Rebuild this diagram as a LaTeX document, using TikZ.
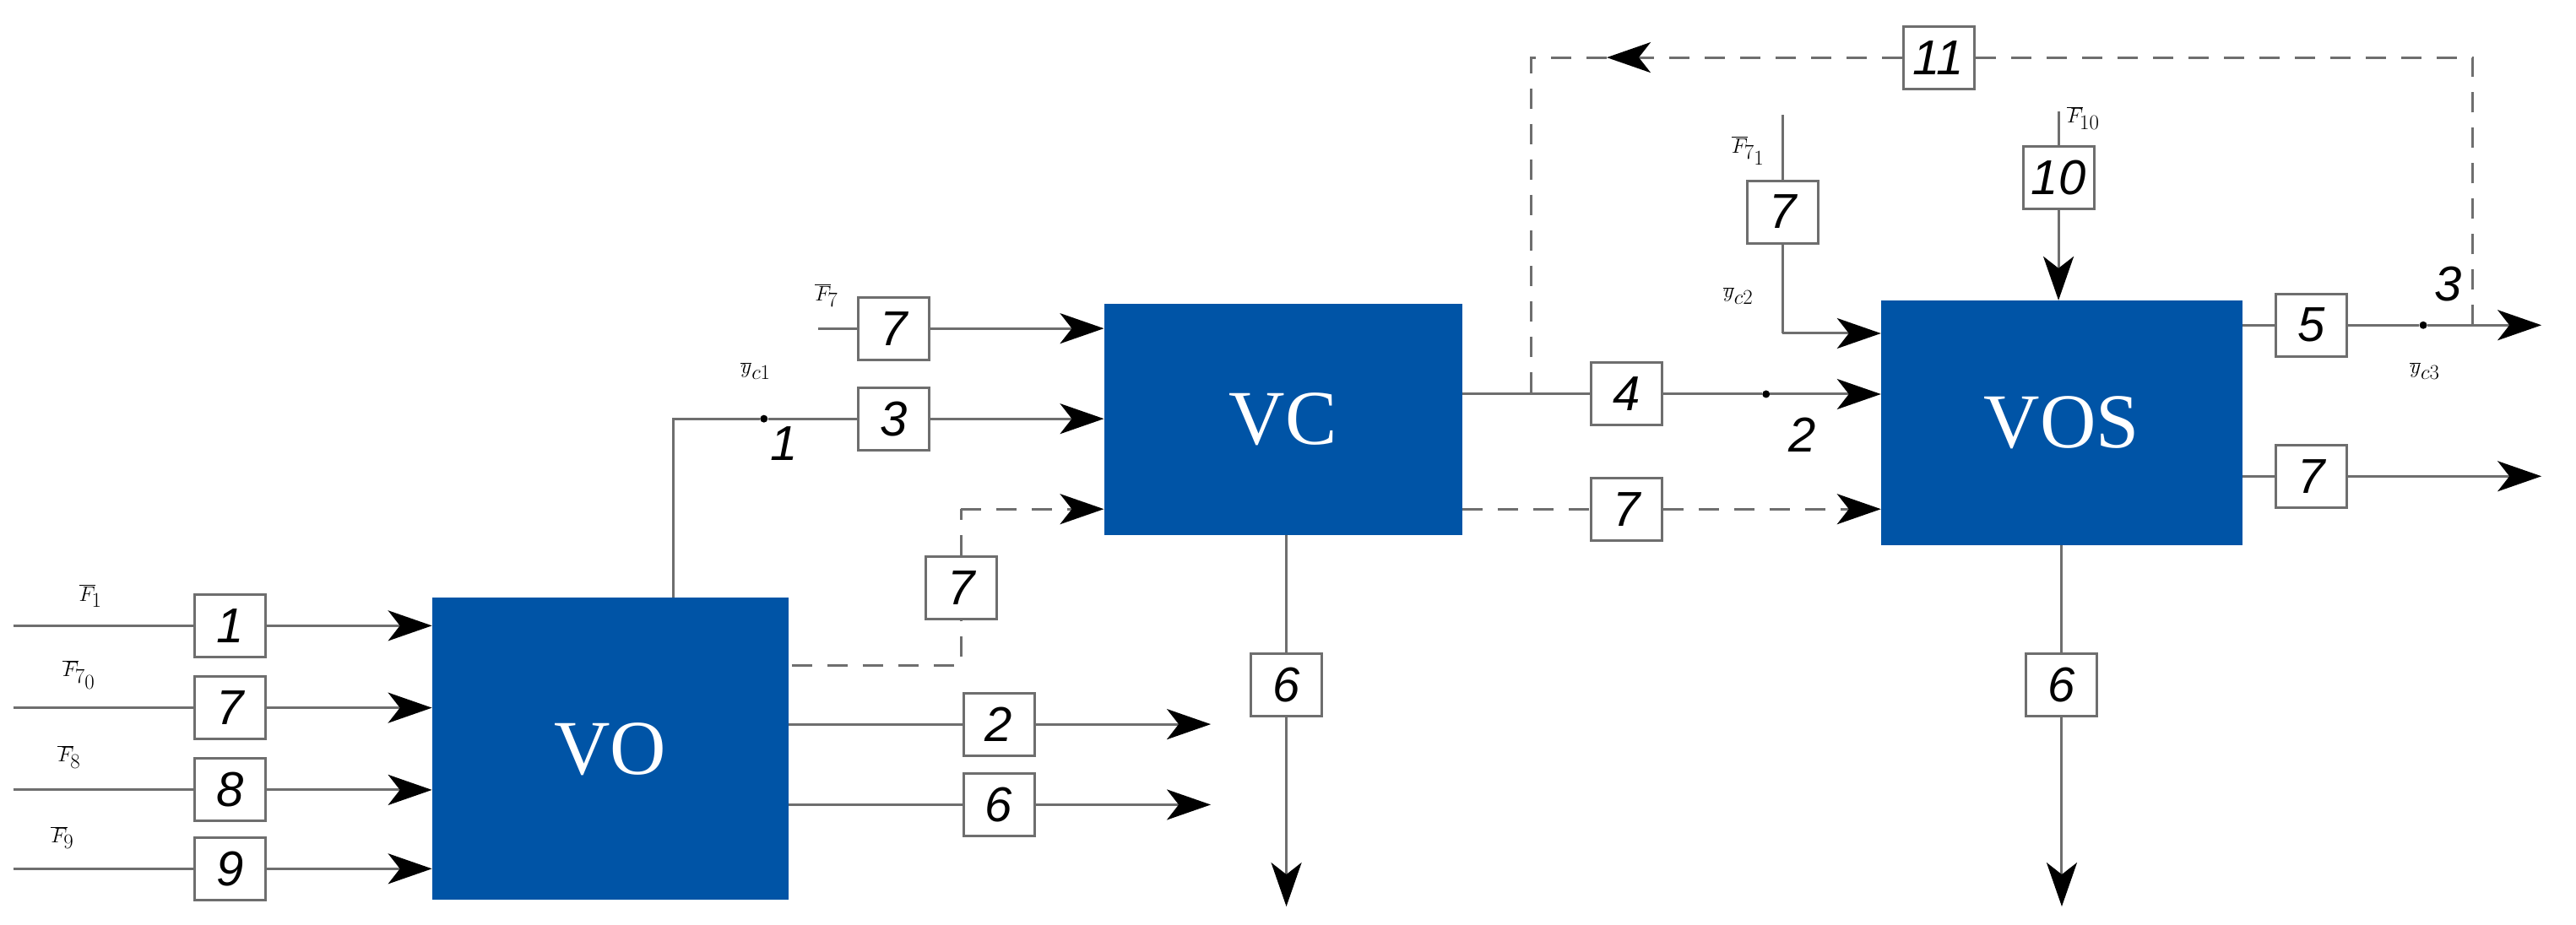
\documentclass[tikz,border=0pt]{standalone}
\usepackage{fontspec}
\setmainfont{Liberation Sans}
\newfontfamily\blkfont{Liberation Serif}
\usetikzlibrary{arrows.meta}
\definecolor{blkblue}{RGB}{0,84,166}
\definecolor{ln}{RGB}{110,110,110}
\begin{document}
\begin{tikzpicture}[x=1.9458pt,y=-1.9458pt,
  blk/.style={fill=blkblue,draw=none,text=white,font=\blkfont\fontsize{92}{100}\selectfont},
  bx/.style={draw=ln,line width=3pt,fill=white,minimum width=84pt,minimum height=74pt,inner sep=0pt,font=\itshape\fontsize{58}{60}\selectfont},
  ln/.style={draw=ln,line width=3pt},
  arr/.style={ln,-{Stealth[length=52pt,width=36pt,inset=14pt,fill=black,color=black]}},
  dsh/.style={dash pattern=on 24pt off 18pt},
  lab/.style={font=\fontsize{58}{60}\selectfont,inner sep=0pt},
  dot/.style={circle,fill=black,inner sep=0pt,minimum size=9pt}]
\useasboundingbox (0,0) rectangle (1568,563);
% blocks
\node[blk,minimum width=422pt,minimum height=358pt] (VO) at (371.5,456) {VO};
\node[blk,minimum width=424pt,minimum height=274pt] (VC) at (781,255.5) {VC};
\node[blk,minimum width=428pt,minimum height=290pt] (VOS) at (1255,257.5) {VOS};
% VO inputs
\foreach \n/\y/\t in {a/381/1,b/431/7,c/481/8,d/529/9}{
  \coordinate (s\n) at (8,\y);
  \node[bx] (b\n) at (140,\y) {\t};
  \draw[ln] (s\n) -- (b\n);
  \draw[arr] (b\n) -- (b\n -| VO.west);
}
\node[lab] (la) at (55,363) {$\overline{F}_{\!1}$};
\node[lab] (lb) at (48,411) {$\overline{F}_{\!7_0}$};
\node[lab] (lc) at (42,461) {$\overline{F}_{\!8}$};
\node[lab] (ld) at (38,510) {$\overline{F}_{\!9}$};
% VO outputs
\coordinate (vot) at (410,255);
\node[dot] (yc1) at (465,255) {};
\node[bx] (b3) at (544,255) {3};
\draw[ln] (vot |- VO.north) -- (vot) -- (yc1) -- (b3);
\draw[arr] (b3) -- (b3 -| VC.west);
\node[lab] (lyc1) at (460,226) {$\overline{y}_{c1}$};
\node[lab] (l1) at (477,270) {\itshape 1};
\coordinate (sf7) at (498,200);
\node[bx] (bf7) at (544,200) {7};
\draw[ln] (sf7) -- (bf7);
\draw[arr] (bf7) -- (bf7 -| VC.west);
\node[lab] (lf7) at (503,180) {$\overline{F}_{\!7}$};
\coordinate (vd1) at (482,405);
\coordinate (vd2) at (585,405);
\node[bx] (bd7) at (585,358) {7};
\coordinate (vd3) at (585,310);
\draw[ln,dsh] (vd1) -- (vd2) -- (bd7) -- (vd3);
\draw[arr,dsh] (vd3) -- (vd3 -| VC.west);
\node[bx] (b2) at (608,441) {2};
\coordinate (e2) at (737,441);
\draw[ln] (b2 -| VO.east) -- (b2);
\draw[arr] (b2) -- (e2);
\node[bx] (b6a) at (608,490) {6};
\coordinate (e6a) at (737,490);
\draw[ln] (b6a -| VO.east) -- (b6a);
\draw[arr] (b6a) -- (e6a);
% VC outputs
\node[bx] (b6b) at (783,417) {6};
\coordinate (e6b) at (783,552);
\draw[ln] (b6b |- VC.south) -- (b6b);
\draw[arr] (b6b) -- (e6b);
\node[bx] (b4) at (990,240) {4};
\node[dot] (yc2) at (1075,240) {};
\draw[ln] (b4 -| VC.east) -- (b4) -- (yc2);
\draw[arr] (yc2) -- (yc2 -| VOS.west);
\node[lab] (lyc2) at (1058,180) {$\overline{y}_{c2}$};
\node[lab] (l2) at (1097,265) {\itshape 2};
\node[bx] (b7c) at (990,310) {7};
\draw[ln,dsh] (b7c -| VC.east) -- (b7c);
\draw[arr,dsh] (b7c) -- (b7c -| VOS.west);
% VOS inputs
\coordinate (sf71) at (1085,70);
\node[bx] (bf71) at (1085,129) {7};
\coordinate (cf71) at (1085,203);
\draw[ln] (sf71) -- (bf71) -- (cf71);
\draw[arr] (cf71) -- (cf71 -| VOS.west);
\node[lab] (lf71) at (1064,92) {$\overline{F}_{\!7_1}$};
\coordinate (sf10) at (1253,68);
\node[bx] (bf10) at (1253,108) {10};
\draw[ln] (sf10) -- (bf10);
\draw[arr] (bf10) -- (bf10 |- VOS.north);
\node[lab] (lf10) at (1268,72) {$\overline{F}_{\!10}$};
% VOS outputs
\node[bx] (b5) at (1407,198) {5};
\node[dot] (yc3) at (1475,198) {};
\coordinate (e5) at (1547,198);
\draw[ln] (b5 -| VOS.east) -- (b5) -- (yc3);
\draw[arr] (yc3) -- (e5);
\node[lab] (l3) at (1490,173) {\itshape 3};
\node[lab] (lyc3) at (1476,226) {$\overline{y}_{c3}$};
\node[bx] (b7d) at (1407,290) {7};
\coordinate (e7d) at (1547,290);
\draw[ln] (b7d -| VOS.east) -- (b7d);
\draw[arr] (b7d) -- (e7d);
\node[bx] (b6c) at (1255,417) {6};
\coordinate (e6c) at (1255,552);
\draw[ln] (b6c |- VOS.south) -- (b6c);
\draw[arr] (b6c) -- (e6c);
% feedback
\coordinate (f1) at (1505,198);
\coordinate (f2) at (1505,35);
\node[bx] (b11) at (1180,35) {11};
\coordinate (f3) at (978,35);
\coordinate (f4) at (932,35);
\coordinate (f5) at (932,240);
\draw[ln,dsh] (f1) -- (f2) -- (b11);
\draw[arr,dsh] (b11) -- (f3);
\draw[ln,dsh] (f3) -- (f4) -- (f5);
\end{tikzpicture}
\end{document}
